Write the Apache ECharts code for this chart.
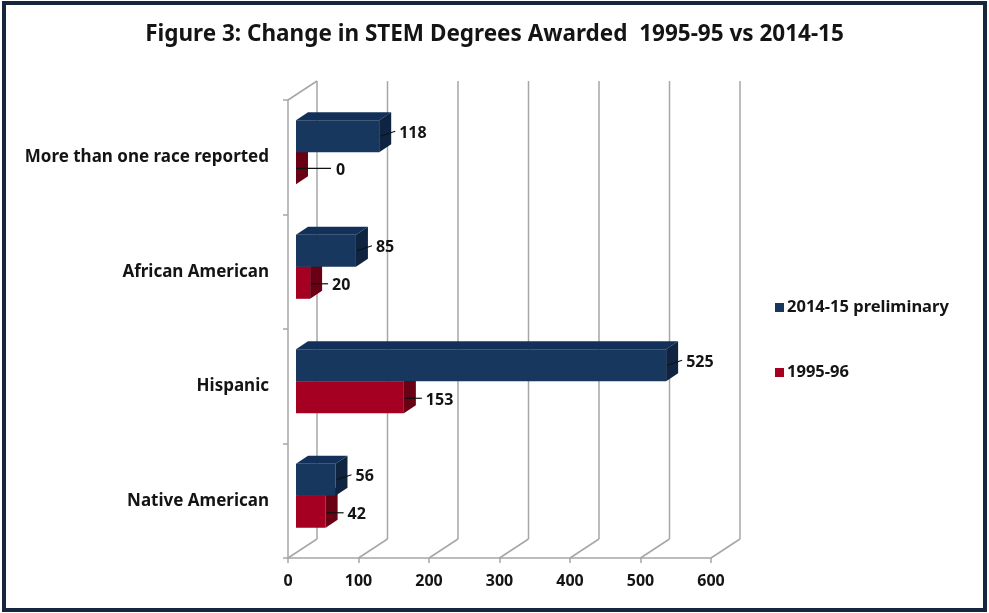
<!DOCTYPE html>
<html>
<head>
<meta charset="utf-8">
<script src="https://cdn.jsdelivr.net/npm/echarts@6/dist/echarts.min.js"></script>
<style>
  html, body { margin: 0; padding: 0; background: #fff; }
  #chart { width: 989px; height: 613px; }
</style>
</head>
<body>
<div id="chart"></div>
<script>
// data
var categories = ['Native American', 'Hispanic', 'African American', 'More than one race reported'];
var values2014 = [56, 525, 85, 118];
var values1995 = [42, 153, 20, 0];
var xTicks = [0, 100, 200, 300, 400, 500, 600];
var seriesNames = ['2014-15 preliminary', '1995-96'];

var TXT = '#141414';
var FONT = 'Noto Sans';
var GRID_GRAY = '#a6a6a6';

// fake 3d: depth of the walls and of the bars
var WALL_DX = 29, WALL_DY = -19;
var BAR_OFF_X = 8, BAR_OFF_Y = -5;
var BAR_DX = 12, BAR_DY = -8;

var chart = echarts.init(document.getElementById('chart'));

function wallItem(params, api) {
  var cs = params.coordSys;
  var p = api.coord([api.value(0), 0]);
  var bottom = cs.y + cs.height;
  var top = cs.y;
  var children = [
    { type: 'line', shape: { x1: p[0], y1: bottom, x2: p[0] + WALL_DX, y2: bottom + WALL_DY },
      style: { stroke: GRID_GRAY, lineWidth: 1.5 } },
    { type: 'line', shape: { x1: p[0] + WALL_DX, y1: bottom + WALL_DY, x2: p[0] + WALL_DX, y2: top + WALL_DY },
      style: { stroke: GRID_GRAY, lineWidth: 1.5 } }
  ];
  if (params.dataIndex === 0) {
    // left side wall top edge
    children.push({ type: 'line', shape: { x1: cs.x, y1: top, x2: cs.x + WALL_DX, y2: top + WALL_DY },
      style: { stroke: GRID_GRAY, lineWidth: 1.5 } });
  }
  return { type: 'group', children: children };
}

function makeBarRenderer(slot, colors) {
  // slot 0 = upper bar of the pair, slot 1 = lower bar
  return function (params, api) {
    var v = api.value(0);
    var c = api.value(1);
    var start = api.coord([0, c]);
    var end = api.coord([v, c]);
    var band = api.size([0, 1])[1];
    var h = band * 0.28;
    var x0 = start[0] + BAR_OFF_X;
    var x1 = end[0] + BAR_OFF_X;
    var y0 = start[1] + BAR_OFF_Y - (slot === 0 ? h : 0);
    var mid = y0 + h / 2;
    var children = [];
    if (x1 > x0) {
      children.push({ type: 'rect', shape: { x: x0, y: y0, width: x1 - x0, height: h },
        style: { fill: colors[0] } });
      children.push({ type: 'polygon', shape: { points: [[x0, y0], [x1, y0], [x1 + BAR_DX, y0 + BAR_DY], [x0 + BAR_DX, y0 + BAR_DY]] },
        style: { fill: colors[1] } });
    }
    children.push({ type: 'polygon', shape: { points: [[x1, y0], [x1 + BAR_DX, y0 + BAR_DY], [x1 + BAR_DX, y0 + h + BAR_DY], [x1, y0 + h]] },
      style: { fill: colors[2] } });
    var lx1, ly1, lx2, ly2, tx, ty;
    if (slot === 0) {
      lx1 = x1 + 1; ly1 = mid; lx2 = x1 + 16; ly2 = mid - 5; tx = x1 + 20; ty = mid - 3;
    } else if (v === 0) {
      lx1 = x1; ly1 = mid; lx2 = x1 + 35; ly2 = mid; tx = x1 + 40; ty = mid + 2;
    } else {
      lx1 = x1 + 1; ly1 = mid + 1; lx2 = x1 + 18; ly2 = mid + 1; tx = x1 + 22; ty = mid + 3;
    }
    children.push({ type: 'line', shape: { x1: lx1, y1: ly1, x2: lx2, y2: ly2 },
      style: { stroke: '#111', lineWidth: 1.2 } });
    children.push({ type: 'text', style: { text: String(v), x: tx, y: ty, fill: TXT,
      font: 'bold 16px "' + FONT + '"', verticalAlign: 'middle', align: 'left' } });
    return { type: 'group', children: children };
  };
}

var blueColors = ['#17375e', '#13305a', '#0f2440'];
var redColors = ['#a50021', '#8c001c', '#6a0014'];

var option = {
  animation: false,
  textStyle: { fontFamily: FONT },
  title: {
    text: 'Figure 3: Change in STEM Degrees Awarded  1995-95 vs 2014-15',
    left: 'center',
    top: 18,
    textStyle: { fontSize: 22.5, fontWeight: 'bold', color: TXT, fontFamily: FONT }
  },
  legend: {
    orient: 'vertical',
    left: 770,
    top: 294,
    itemWidth: 9,
    itemHeight: 9,
    itemGap: 48,
    icon: 'rect',
    data: seriesNames,
    textStyle: { fontSize: 16.5, fontWeight: 'bold', color: TXT, fontFamily: FONT, padding: [0, 0, 0, -2] }
  },
  graphic: [{
    type: 'rect',
    shape: { x: 4, y: 3, width: 981, height: 607 },
    style: { fill: null, stroke: '#17263f', lineWidth: 4 },
    silent: true
  }],
  grid: { left: 288, right: 278, top: 100, bottom: 55 },
  xAxis: {
    type: 'value',
    min: 0,
    max: 600,
    interval: 100,
    axisLine: { show: true, lineStyle: { color: GRID_GRAY, width: 1.5 } },
    axisTick: { show: true, length: 5, lineStyle: { color: GRID_GRAY, width: 1.5 } },
    splitLine: { show: false },
    axisLabel: {
      margin: 15,
      fontSize: 16,
      fontWeight: 'bold',
      color: TXT,
      fontFamily: FONT,
      customValues: xTicks
    }
  },
  yAxis: {
    type: 'category',
    data: categories,
    axisLine: { show: true, lineStyle: { color: GRID_GRAY, width: 1.5 } },
    axisTick: { show: true, length: 5, lineStyle: { color: GRID_GRAY, width: 1.5 } },
    splitLine: { show: false },
    axisLabel: { margin: 19, fontSize: 17, fontWeight: 'bold', color: TXT, fontFamily: FONT, padding: [8, 0, 0, 0] }
  },
  series: [
    {
      type: 'custom',
      name: 'wall',
      silent: true,
      clip: false,
      renderItem: wallItem,
      encode: { x: 0 },
      data: xTicks.map(function (t) { return [t, 0]; }),
      z: 1
    },
    {
      type: 'custom',
      name: seriesNames[1],
      clip: false,
      itemStyle: { color: redColors[0] },
      renderItem: makeBarRenderer(1, redColors),
      encode: { x: 0, y: 1 },
      data: values1995.map(function (v, i) { return [v, i]; }),
      z: 2
    },
    {
      type: 'custom',
      name: seriesNames[0],
      clip: false,
      itemStyle: { color: blueColors[0] },
      renderItem: makeBarRenderer(0, blueColors),
      encode: { x: 0, y: 1 },
      data: values2014.map(function (v, i) { return [v, i]; }),
      z: 3
    }
  ]
};

chart.setOption(option);
</script>
</body>
</html>
